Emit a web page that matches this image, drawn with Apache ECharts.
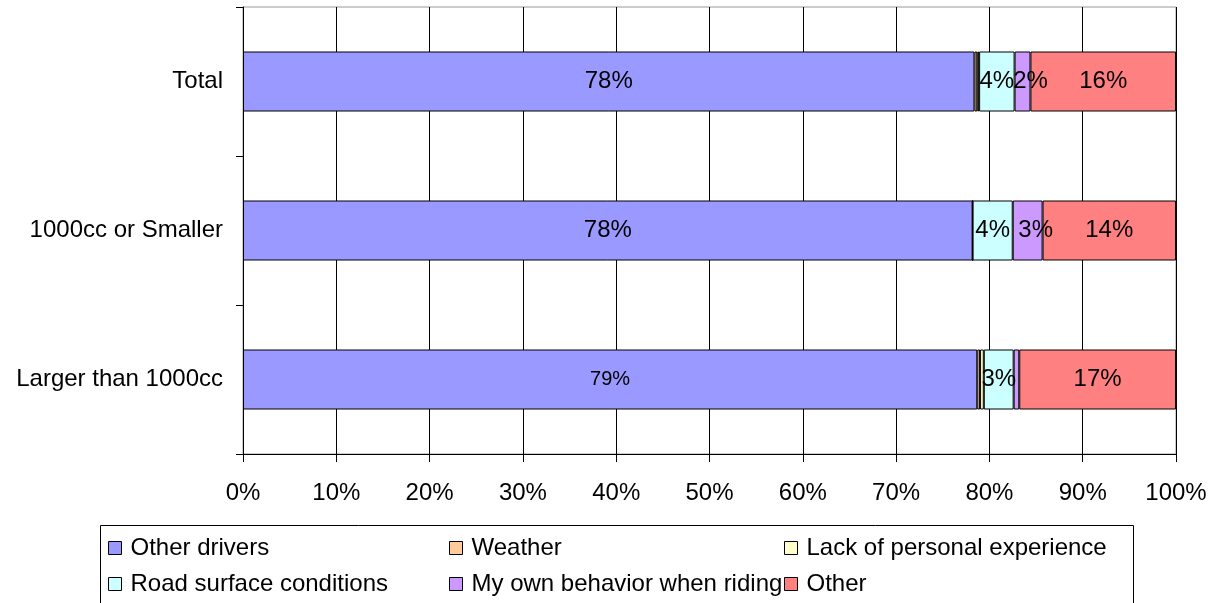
<!DOCTYPE html>
<html>
<head>
<meta charset="utf-8">
<script src="https://cdn.jsdelivr.net/npm/echarts@6/dist/echarts.min.js"></script>
<style>
  html, body { margin: 0; padding: 0; background: #fff; }
  #chart { width: 1226px; height: 603px; }
</style>
</head>
<body>
<div id="chart"></div>
<script>
// Bike size groups, top to bottom
const categories = ['Total', '1000cc or Smaller', 'Larger than 1000cc'];

// Share of responses (%) per cause, in category order
const otherDrivers   = [78.4, 78.2, 78.7];
const weather        = [0.3, 0.0, 0.3];
const lackExperience = [0.2, 0.0, 0.4];
const roadSurface    = [3.8, 4.3, 3.2];
const ownBehavior    = [1.7, 3.2, 0.6];
const otherCause     = [15.6, 14.3, 16.8];

const xTicks = [0, 10, 20, 30, 40, 50, 60, 70, 80, 90, 100];

const FONT = '"Liberation Sans", Arial, sans-serif';

const seriesDefs = [
  { name: 'Other drivers', data: otherDrivers, color: '#9999FF' },
  { name: 'Weather', data: weather, color: '#FFCC99' },
  { name: 'Lack of personal experience', data: lackExperience, color: '#FFFFCC' },
  { name: 'Road surface conditions', data: roadSurface, color: '#CCFFFF' },
  { name: 'My own behavior when riding', data: ownBehavior, color: '#CC99FF' },
  { name: 'Other', data: otherCause, color: '#FF8080' }
];

const series = seriesDefs.map(function (s) {
  return {
    name: s.name,
    type: 'bar',
    stack: 'all',
    barWidth: 60,
    data: s.data.map(function (v, i) {
      const item = { value: v };
      // the 79% label is set a little smaller
      if (s.name === 'Other drivers' && i === 2) item.label = { fontSize: 20 };
      // narrow purple segments: nudge their labels clear of the neighbour
      if (s.name === 'My own behavior when riding' && i < 2) item.label = { offset: [8, 0] };
      return item;
    }),
    itemStyle: { color: s.color, borderColor: '#000', borderWidth: 1 },
    label: {
      show: true,
      position: 'inside',
      color: '#000',
      fontFamily: FONT,
      fontSize: 24,
      formatter: function (p) {
        return p.value < 1 ? '' : Math.round(p.value) + '%';
      }
    },
    emphasis: { disabled: true }
  };
});

const legendCommon = {
  orient: 'vertical',
  top: 534,
  padding: 0,
  itemWidth: 13,
  itemHeight: 13,
  itemGap: 8,
  icon: 'rect',
  itemStyle: { borderColor: '#000', borderWidth: 1 },
  textStyle: { fontFamily: FONT, fontSize: 24, color: '#000', lineHeight: 28, padding: [0, 0, 0, 4] },
  selectedMode: false
};

const option = {
  animation: false,
  backgroundColor: '#fff',
  grid: {
    left: 243, right: 50, top: 7, bottom: 149,
    show: true, borderColor: '#999', borderWidth: 1
  },
  xAxis: {
    type: 'value',
    min: xTicks[0],
    max: xTicks[xTicks.length - 1],
    interval: 10,
    axisLine: { show: true, lineStyle: { color: '#000', width: 1 } },
    axisTick: { show: true, length: 8, lineStyle: { color: '#000' } },
    splitLine: { show: true, lineStyle: { color: '#000', width: 1 } },
    axisLabel: {
      margin: 27,
      color: '#000',
      fontFamily: FONT,
      fontSize: 24,
      formatter: '{value}%'
    }
  },
  yAxis: {
    type: 'category',
    inverse: true,
    data: categories,
    axisLine: { show: true, lineStyle: { color: '#000', width: 1 } },
    axisTick: { show: true, length: 7, alignWithLabel: false, lineStyle: { color: '#000' } },
    splitLine: { show: false },
    axisLabel: { margin: 20, color: '#000', fontFamily: FONT, fontSize: 24 }
  },
  legend: [
    Object.assign({}, legendCommon, { left: 108, data: ['Other drivers', 'Road surface conditions'] }),
    Object.assign({}, legendCommon, { left: 449, data: ['Weather', 'My own behavior when riding'] }),
    Object.assign({}, legendCommon, { left: 784, data: ['Lack of personal experience', 'Other'] })
  ],
  graphic: [{
    type: 'rect',
    shape: { x: 100.5, y: 525.5, width: 1033, height: 100 },
    style: { fill: 'none', stroke: '#000', lineWidth: 1 },
    silent: true
  }],
  series: series
};

const chart = echarts.init(document.getElementById('chart'), null, { renderer: 'canvas' });
chart.setOption(option);
</script>
</body>
</html>
